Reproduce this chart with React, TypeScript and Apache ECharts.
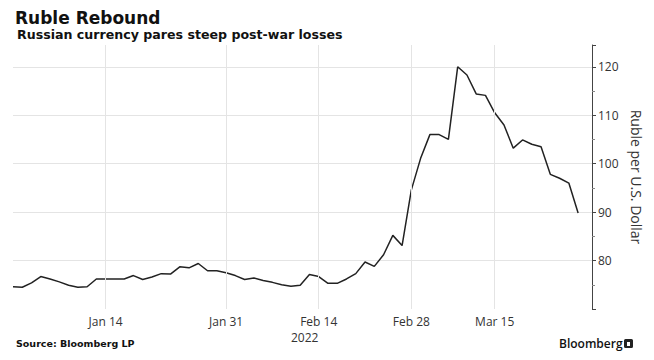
import React, { useEffect, useRef } from "react";
import * as echarts from "echarts";

const dates: string[] = [
  "Dec 31", "Jan 3", "Jan 4", "Jan 5", "Jan 6", "Jan 7", "Jan 10", "Jan 11", "Jan 12", "Jan 13", "Jan 14",
  "Jan 17", "Jan 18", "Jan 19", "Jan 20", "Jan 21", "Jan 22", "Jan 24", "Jan 25", "Jan 26", "Jan 27", "Jan 28", "Jan 29", "Jan 31",
  "Feb 1", "Feb 2", "Feb 3", "Feb 4", "Feb 7", "Feb 8", "Feb 9", "Feb 10", "Feb 11", "Feb 14",
  "Feb 15", "Feb 16", "Feb 17", "Feb 18", "Feb 21", "Feb 22", "Feb 23", "Feb 24", "Feb 25", "Feb 28",
  "Mar 1", "Mar 2", "Mar 3", "Mar 4", "Mar 9", "Mar 10", "Mar 11", "Mar 14", "Mar 15",
  "Mar 16", "Mar 17", "Mar 18", "Mar 21", "Mar 22", "Mar 23", "Mar 24", "Mar 25", "Mar 28",
];

const rublePerUsd: number[] = [
  74.6, 74.5, 75.4, 76.7, 76.2, 75.6, 74.9, 74.5, 74.6, 76.2, 76.2,
  76.2, 76.2, 76.9, 76.1, 76.6, 77.3, 77.2, 78.7, 78.5, 79.4, 77.9, 77.9, 77.5,
  76.9, 76.1, 76.4, 75.9, 75.5, 75.0, 74.7, 74.9, 77.1, 76.7,
  75.3, 75.3, 76.2, 77.3, 79.7, 78.8, 81.2, 85.2, 83.1, 94.6,
  101.1, 106.0, 106.0, 105.0, 120.0, 118.3, 114.4, 114.1, 110.5,
  108.0, 103.2, 104.9, 104.0, 103.5, 97.8, 97.0, 96.0, 89.8,
];

const tickLabels: string[] = ["Jan 14", "Jan 31", "Feb 14", "Feb 28", "Mar 15"];

const title = "Ruble Rebound";
const subtitle = "Russian currency pares steep post-war losses";
const yAxisName = "Ruble per U.S. Dollar";
const yearLabel = "2022";
const source = "Source: Bloomberg LP";

export default function App() {
  const ref = useRef<HTMLDivElement>(null);
  useEffect(() => {
    if (!ref.current) return;
    const chart = echarts.init(ref.current, null, { renderer: "svg" });
    const tickIdx = tickLabels.map((t) => dates.indexOf(t));
    const seriesData = rublePerUsd.map((v, i) => [i, v]);
    const labelFont = "'Open Sans', 'Noto Sans', sans-serif";
    chart.setOption({
      animation: false,
      backgroundColor: "#ffffff",
      textStyle: { fontFamily: "'DejaVu Sans', sans-serif" },
      grid: { left: 13, right: 62, top: 45, bottom: 51, containLabel: false },
      title: [
        {
          text: title,
          left: 10,
          top: 4,
          textStyle: { fontSize: 17, fontWeight: "bold", color: "#111", fontFamily: "'DejaVu Sans', sans-serif" },
        },
        {
          text: subtitle,
          left: 12,
          top: 23,
          textStyle: { fontSize: 12.6, fontWeight: "bold", color: "#111", fontFamily: "'DejaVu Sans', sans-serif" },
        },
      ],
      xAxis: {
        type: "value",
        min: 0,
        max: 62.5,
        axisLine: { show: false, onZero: false },
        axisTick: { show: false },
        axisLabel: {
          customValues: tickIdx,
          formatter: (v: number) => dates[Math.round(v)] ?? "",
          color: "#333",
          fontSize: 12,
          fontFamily: labelFont,
          margin: 5,
          lineHeight: 14,
        },
        splitLine: { show: false },
      },
      yAxis: {
        type: "value",
        position: "right",
        min: 70,
        max: 124.5,
        interval: 10,
        name: yAxisName,
        nameLocation: "middle",
        nameRotate: -90,
        nameGap: 22,
        nameTextStyle: { fontSize: 14, color: "#333", fontFamily: labelFont },
        axisLine: { show: true, onZero: false, lineStyle: { color: "#444", width: 1 } },
        axisTick: { show: true, length: 4, lineStyle: { color: "#444" } },
        minorTick: { show: true, splitNumber: 2, length: 3, lineStyle: { color: "#888" } },
        axisLabel: {
          showMinLabel: false,
          showMaxLabel: false,
          color: "#333",
          fontSize: 12,
          fontFamily: labelFont,
          margin: 6,
        },
        splitLine: { show: true, showMinLine: false, showMaxLine: false, lineStyle: { color: "#e4e4e4", width: 1 } },
      },
      series: [
        {
          type: "line",
          data: [],
          silent: true,
          z: 1,
          markLine: {
            silent: true,
            symbol: "none",
            label: { show: false },
            lineStyle: { color: "#e4e4e4", width: 1, type: "solid" },
            data: tickIdx.map((i) => ({ xAxis: i })),
          },
        },
        {
          type: "line",
          data: seriesData,
          showSymbol: false,
          symbol: "none",
          z: 3,
          lineStyle: { color: "#222", width: 1.5 },
        },
      ],
      graphic: [
        {
          type: "text",
          left: 291,
          top: 331,
          style: { text: yearLabel, fontSize: 12, lineHeight: 13, fill: "#333", fontFamily: labelFont },
        },
        {
          type: "text",
          left: 16,
          top: 338,
          style: { text: source, fontSize: 9.5, fontWeight: "bold", fill: "#111", fontFamily: "'DejaVu Sans', sans-serif" },
        },
        {
          type: "text",
          left: 559,
          top: 337,
          style: { text: "Bloomberg", fontSize: 12, fontWeight: 600, fill: "#111", fontFamily: "'Open Sans', sans-serif" },
        },
        {
          type: "rect",
          left: 624,
          top: 339,
          shape: { width: 9, height: 9, r: 1.5 },
          style: { fill: "#222" },
        },
        {
          type: "rect",
          left: 627,
          top: 342,
          shape: { width: 3, height: 4 },
          style: { fill: "#fff" },
        },
      ],
    });
    return () => chart.dispose();
  }, []);
  return (
    <div
      ref={ref}
      style={{ position: "absolute", left: 0, top: 0, width: 654, height: 360, background: "#fff" }}
    />
  );
}
